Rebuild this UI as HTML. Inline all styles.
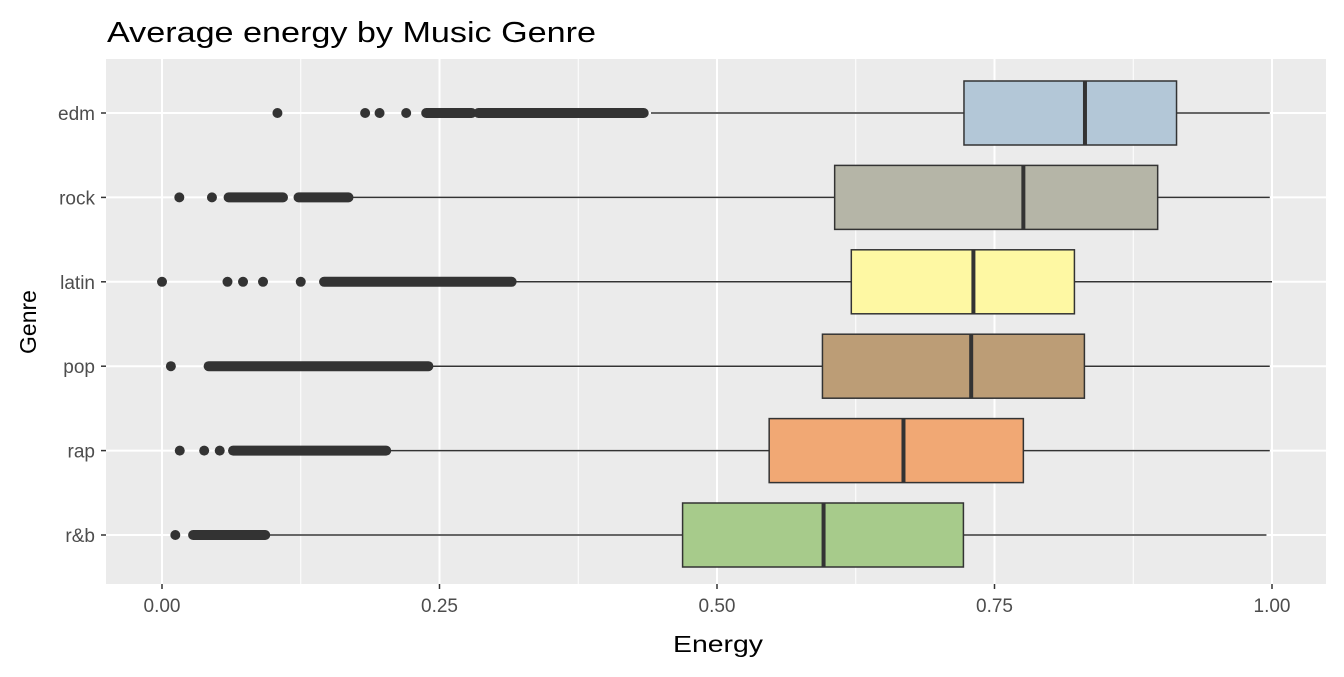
<!DOCTYPE html>
<html><head><meta charset="utf-8"><style>
body{margin:0;background:#fff;}
svg text{font-family:"Liberation Sans",Arial,sans-serif;}
</style></head><body>
<svg id="chart" width="1344" height="672" xmlns="http://www.w3.org/2000/svg">
<text x="107" y="42" font-size="29" textLength="489" lengthAdjust="spacingAndGlyphs" fill="#000">Average energy by Music Genre</text>
<rect x="106" y="59" width="1220" height="525" fill="#ebebeb"/>
<g id="grid"></g><g id="marks"></g><g id="axes"></g>
<text x="673" y="652" font-size="23" textLength="90" lengthAdjust="spacingAndGlyphs" fill="#000">Energy</text>
<text transform="translate(36,322) rotate(-90)" font-size="23" text-anchor="middle" fill="#000">Genre</text>
</svg>
<script>
const genres=["edm","rock","latin","pop","rap","r&b"];
const q1=[0.7225,0.606,0.621,0.595,0.547,0.469];
const medians=[0.8315,0.776,0.731,0.729,0.668,0.596];
const q3=[0.914,0.897,0.822,0.831,0.776,0.722];
const whiskerLow=[0.4405,0.169,0.319,0.241,0.204,0.093];
const whiskerHigh=[0.998,0.998,1.0,0.998,0.998,0.995];
const fills=["#b3c7d7","#b5b5a7","#fef8a3","#bc9d76","#f1a874","#a7cb8b"];
const outlierPoints=[[0.104,0.183,0.196,0.220],[0.0156,0.045],[0.0,0.059,0.073,0.091,0.125],[0.008],[0.016,0.038,0.052],[0.012]];
const outlierRuns=[[[0.238,0.279],[0.285,0.434]],[[0.060,0.109],[0.123,0.168]],[[0.146,0.315]],[[0.042,0.240]],[[0.064,0.202]],[[0.028,0.093]]];
const xTicks=[0,0.25,0.5,0.75,1];
const xTickLabels=["0.00","0.25","0.50","0.75","1.00"];
const NS="http://www.w3.org/2000/svg";
const X=v=>162+v*1110;
const Y=i=>113+i*84.4;
function mk(tag,attrs,parent){const e=document.createElementNS(NS,tag);for(const k in attrs)e.setAttribute(k,attrs[k]);parent.appendChild(e);return e;}
const grid=document.getElementById('grid'),marks=document.getElementById('marks'),axes=document.getElementById('axes');
for(let i=0;i<xTicks.length-1;i++){const m=(xTicks[i]+xTicks[i+1])/2;
 const l=mk('line',{x1:X(m),x2:X(m),y1:59,y2:584,stroke:'#fff','stroke-width':1},grid);
 
 }
xTicks.forEach((t,i)=>{
 const l=mk('line',{x1:X(t),x2:X(t),y1:59,y2:584,stroke:'#fff','stroke-width':2},grid);
 
 
 mk('line',{x1:X(t),x2:X(t),y1:584,y2:589,stroke:'#333','stroke-width':1.5},axes);
 const tx=mk('text',{x:X(t),y:612,'font-size':19,'text-anchor':'middle',fill:'#4d4d4d'},axes);tx.textContent=xTickLabels[i];
 
 
});
genres.forEach((g,i)=>{
 const y=Y(i);
 const gl=mk('line',{x1:106,x2:1326,y1:y,y2:y,stroke:'#fff','stroke-width':2},grid);
 
 
 mk('line',{x1:101,x2:106,y1:y,y2:y,stroke:'#333','stroke-width':1.5},axes);
 const tl=mk('text',{x:95,y:y+7,'font-size':19,'text-anchor':'end',fill:'#4d4d4d'},axes);tl.textContent=g;
 
 
 const w=mk('line',{x1:X(whiskerLow[i]),x2:X(whiskerHigh[i]),y1:y,y2:y,stroke:'#333','stroke-width':1.5},marks);
 
 
 const b=mk('rect',{x:X(q1[i]),y:y-32,width:X(q3[i])-X(q1[i]),height:64,fill:fills[i],stroke:'#333','stroke-width':1.5},marks);
 
 
 const md=mk('line',{x1:X(medians[i]),x2:X(medians[i]),y1:y-32,y2:y+32,stroke:'#333','stroke-width':4},marks);
 
 
 outlierRuns[i].forEach(r=>{
  const rl=mk('line',{x1:X(r[0]),x2:X(r[1]),y1:y,y2:y,stroke:'#333','stroke-width':10,'stroke-linecap':'round'},marks);
  
  
 });
 outlierPoints[i].forEach(v=>{
  const c=mk('circle',{cx:X(v),cy:y,r:5,fill:'#333'},marks);
  
  
 });
});
</script>
</body></html>
